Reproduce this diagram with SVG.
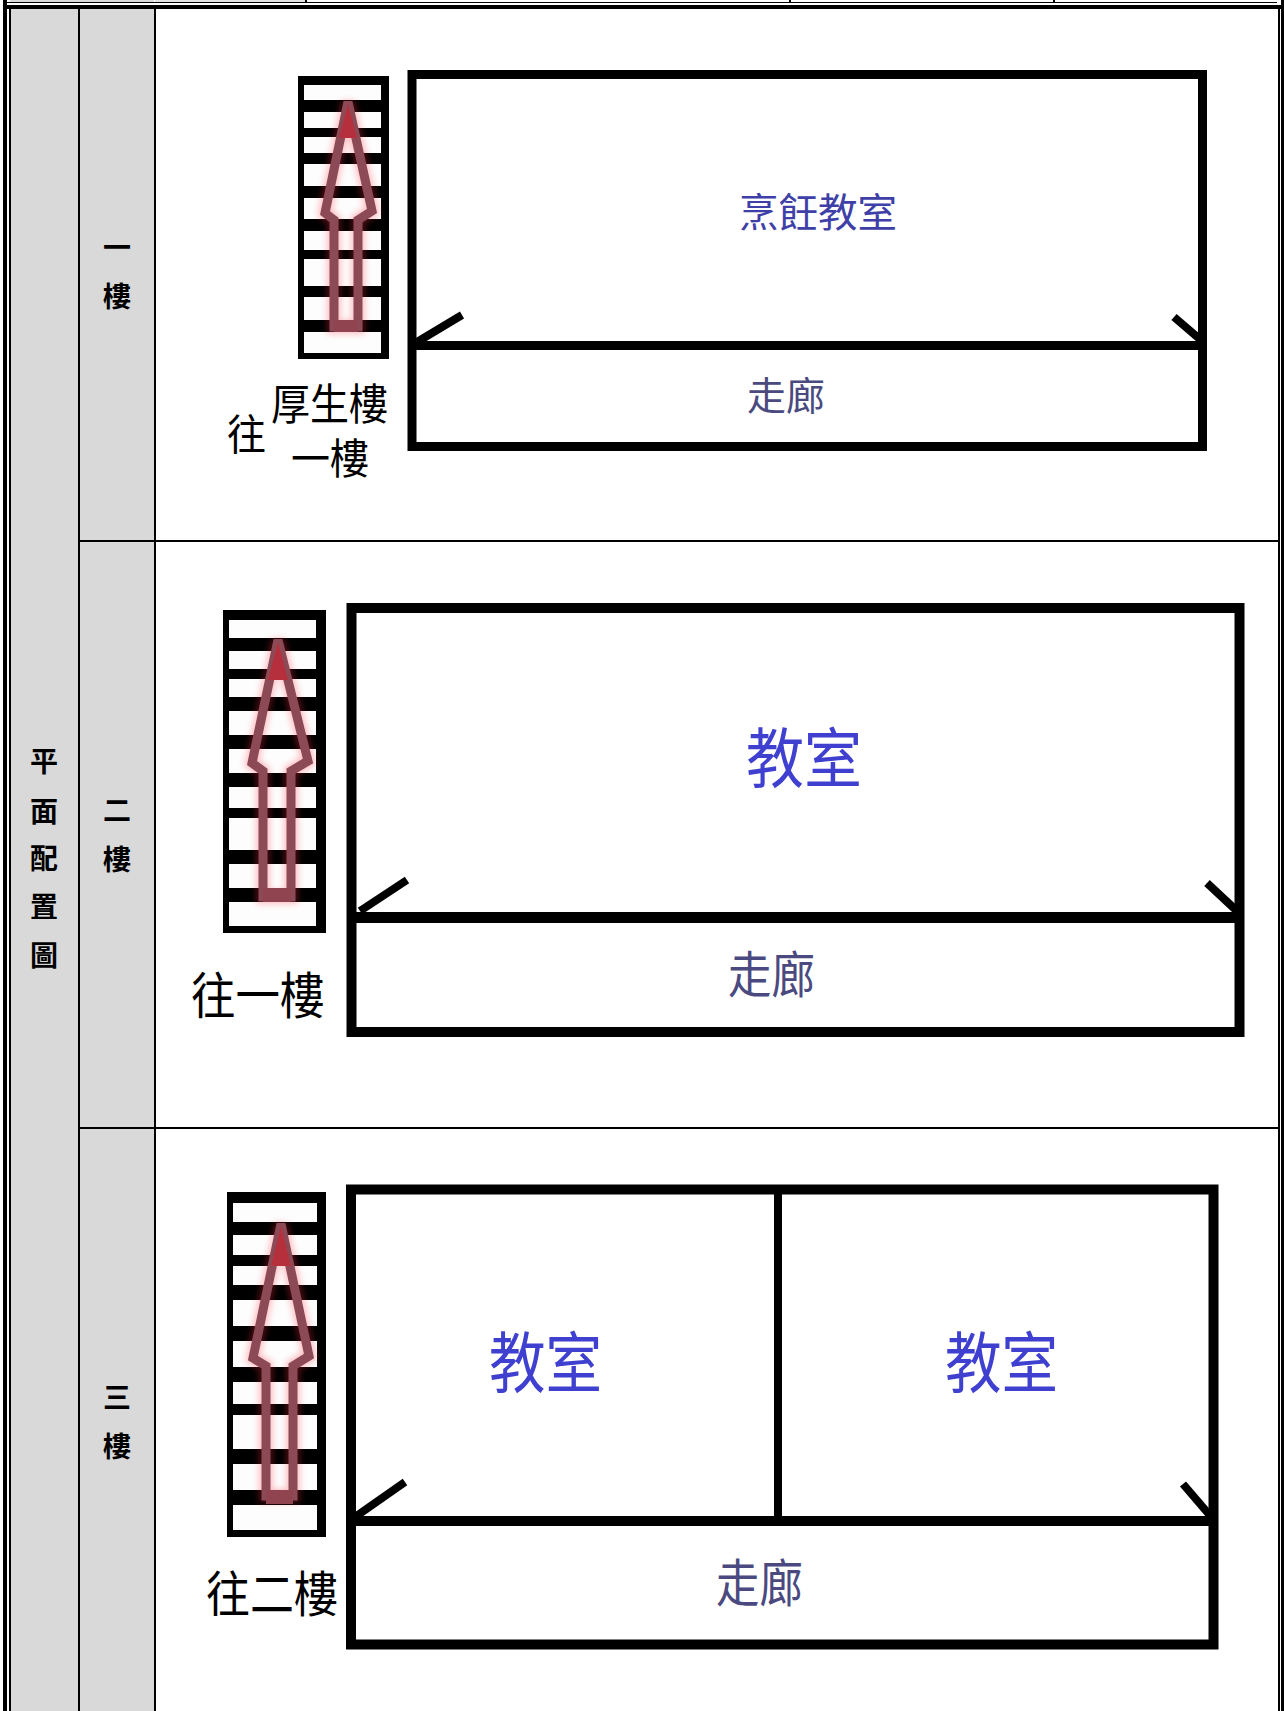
<svg xmlns="http://www.w3.org/2000/svg" width="1284" height="1711" viewBox="0 0 1284 1711">
<style>
text{font-family:"Noto Sans CJK TC","Noto Sans CJK SC",sans-serif}
.blk{fill:#000}
.wht{fill:#fdfdfd}
.hd{font-size:28px;font-weight:700;fill:#000;text-anchor:middle}
.lbl{fill:#000;font-weight:400}
.room{fill:#3f3fa8}
.cls{fill:#4040d0}
.cor{fill:#4a4a80}
.wall{fill:none;stroke:#000;stroke-linejoin:miter}
.door{stroke:#000;stroke-width:8;fill:none}
.arr{fill:none;stroke:#8b4a55;stroke-width:9;stroke-linejoin:miter;stroke-miterlimit:3}
.glow{fill:none;stroke:#ff3040;stroke-width:14;opacity:.3;filter:url(#bl)}
.tip{fill:#b5303c}
.bar{fill:#8f4450}
</style>
<defs><filter id="bl" x="-40%" y="-20%" width="180%" height="140%"><feGaussianBlur stdDeviation="3"/></filter></defs>
<rect width="1284" height="1711" fill="#fff"/>
<g id="table">
<rect x="10" y="0" width="144" height="2" fill="#d9d9d9"/>
<rect x="155" y="0" width="151" height="2" fill="#e4e4e4"/>
<rect x="10" y="9" width="145" height="1702" fill="#d9d9d9"/>
<rect class="blk" x="3" y="2" width="1274" height="1"/>
<rect class="blk" x="305" y="0" width="2" height="2"/><rect class="blk" x="789" y="0" width="2" height="2"/><rect class="blk" x="1053" y="0" width="2" height="2"/>
<rect class="blk" x="3" y="5" width="1278" height="4"/>
<rect class="blk" x="3" y="0" width="4" height="1711"/>
<rect class="blk" x="9" y="9" width="2" height="1702"/>
<rect class="blk" x="78" y="9" width="2" height="1702"/>
<rect class="blk" x="154" y="9" width="2" height="1702"/>
<rect class="blk" x="1278" y="9" width="2" height="1702"/>
<rect class="blk" x="1281" y="0" width="3" height="1711"/>
<rect class="blk" x="78" y="540" width="1200" height="2"/>
<rect class="blk" x="78" y="1127" width="1200" height="2"/>
</g>
<g id="heading">
<text class="hd" x="44" y="772">平</text><text class="hd" x="44" y="822">面</text><text class="hd" x="44" y="869">配</text><text class="hd" x="44" y="917">置</text><text class="hd" x="44" y="966">圖</text>
</g>
<g id="floor1-label"><text class="hd" x="117" y="258">一</text><text class="hd" x="117" y="307">樓</text></g>
<g id="floor2-label"><text class="hd" x="117" y="821">二</text><text class="hd" x="117" y="870">樓</text></g>
<g id="floor3-label"><text class="hd" x="117" y="1408">三</text><text class="hd" x="117" y="1457">樓</text></g>

<g id="stairs1">
<rect class="blk" x="298" y="76" width="91" height="283"/>
<rect class="wht" x="304" y="85" width="77" height="268"/>
<path class="blk" d="M304 100h77v12h-77zM304 128h77v9h-77zM304 153h77v11h-77zM304 186h77v12h-77zM304 219h77v12h-77zM304 250h77v9h-77zM304 286h77v11h-77zM304 320h77v12h-77z"/>
<path class="glow" d="M348 102L325 213L334 220V327H358V220L372 211Z"/>
<path class="arr" d="M348 102L325 213L334 220V327H358V220L372 211Z"/>
<path class="tip" d="M348 104L339 138H357Z"/>
<rect class="bar" x="334" y="320" width="24" height="12"/>
</g>
<g id="stairs1-label">
<text class="lbl" transform="translate(227 450) scale(1 1.08)" font-size="39">往</text>
<text class="lbl" transform="translate(271 420) scale(1 1.1)" font-size="39">厚生樓</text>
<text class="lbl" transform="translate(291 474) scale(1 1.08)" font-size="39">一樓</text>
</g>
<g id="floor1">
<rect class="wall" x="412" y="74.5" width="790.5" height="372" stroke-width="9"/>
<rect class="blk" x="408" y="341" width="799" height="9"/>
<text class="room" x="739" y="227" font-size="39.5">烹飪教室</text>
<text class="cor" x="747" y="410" font-size="39">走廊</text>
</g>

<g id="stairs2">
<rect class="blk" x="223" y="610" width="103" height="323"/>
<rect class="wht" x="229" y="620" width="87" height="306"/>
<path class="blk" d="M229 638h87v13h-87zM229 669h87v10h-87zM229 697h87v14h-87zM229 735h87v14h-87zM229 773h87v14h-87zM229 808h87v10h-87zM229 850h87v14h-87zM229 888h87v14h-87z"/>
<path class="glow" d="M278 640L252 763L263 771V897H291V771L308 761Z"/>
<path class="arr" d="M278 640L252 763L263 771V897H291V771L308 761Z"/>
<path class="tip" d="M278 642L268 680H288Z"/>
<rect class="bar" x="263" y="888" width="28" height="14"/>
</g>
<g id="stairs2-label"><text class="lbl" transform="translate(191 1014) scale(1 1.12)" font-size="44.5">往一樓</text></g>
<g id="floor2">
<rect class="wall" x="351.5" y="608" width="888" height="424" stroke-width="10"/>
<rect class="blk" x="347" y="912" width="897" height="11"/>
<text class="cls" transform="translate(746 782) scale(1 1.12)" font-size="58">教室</text>
<text class="cor" transform="translate(728 993) scale(1 1.14)" font-size="43.5">走廊</text>
</g>

<g id="stairs3">
<rect class="blk" x="227" y="1192" width="99" height="345"/>
<rect class="wht" x="233" y="1203" width="84" height="327"/>
<path class="blk" d="M233 1222h84v13h-84zM233 1255h84v11h-84zM233 1285h84v15h-84zM233 1326h84v15h-84zM233 1367h84v15h-84zM233 1404h84v11h-84zM233 1449h84v15h-84zM233 1490h84v15h-84z"/>
<path class="glow" d="M281 1224L253 1358L266 1366V1496H293V1366L309 1356Z"/>
<path class="arr" d="M281 1224L253 1358L266 1366V1496H293V1366L309 1356Z"/>
<path class="tip" d="M281 1226L271 1266H291Z"/>
<rect class="bar" x="266" y="1490" width="27" height="14"/>
</g>
<g id="stairs3-label"><text class="lbl" transform="translate(206 1612) scale(1 1.12)" font-size="44">往二樓</text></g>
<g id="floor3">
<rect class="wall" x="351" y="1189.5" width="862.5" height="455" stroke-width="10"/>
<rect class="blk" x="347" y="1516" width="871" height="10"/>
<rect class="blk" x="774" y="1189" width="8" height="330"/>
<text class="cls" transform="translate(489 1387) scale(1 1.17)" font-size="56.5">教室</text>
<text class="cls" transform="translate(945 1387) scale(1 1.17)" font-size="56.5">教室</text>
<text class="cor" transform="translate(716 1602) scale(1 1.18)" font-size="43.5">走廊</text>
</g>
<g id="connectors">
<path class="door" d="M462 315L417 342"/>
<path class="door" d="M1174 317L1202 341"/>
<path class="door" d="M407 880L360 911"/>
<path class="door" d="M1207 883L1238 912"/>
<path class="door" d="M405 1482L355 1517"/>
<path class="door" d="M1183 1484L1213 1519"/>
</g>
</svg>
